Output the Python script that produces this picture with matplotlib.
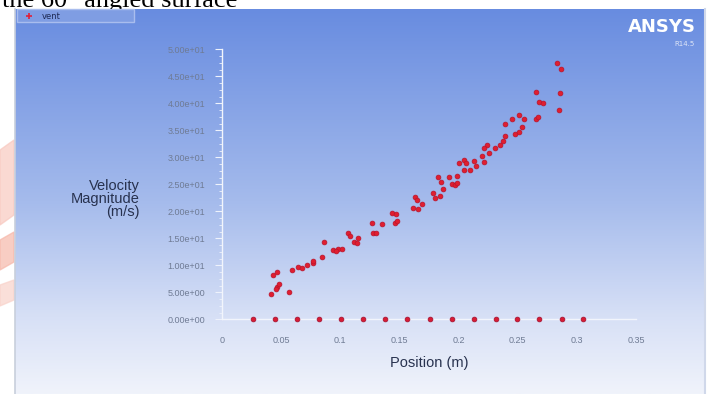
import matplotlib.pyplot as plt
import numpy as np
from matplotlib.ticker import MultipleLocator, AutoMinorLocator, FuncFormatter
from matplotlib.patches import Rectangle, Polygon

# Dados: pontos da superficie "vent"
pos_vent = [0.0412, 0.0429, 0.0462, 0.0467, 0.0479, 0.0459, 0.0569, 0.0589, 0.0645, 0.0674,
            0.0716, 0.0767, 0.0772, 0.0843, 0.0865, 0.0941, 0.0983, 0.1012, 0.0961, 0.1068,
            0.1082, 0.1118, 0.1152, 0.1139, 0.1270, 0.1279, 0.1302, 0.1350, 0.1434, 0.1471,
            0.1462, 0.1482, 0.1617, 0.1659, 0.1688, 0.1631, 0.1646, 0.1786, 0.1801, 0.1843,
            0.1866, 0.1828, 0.1849, 0.1921, 0.1942, 0.1970, 0.1989, 0.1989, 0.2006, 0.2048,
            0.2063, 0.2048, 0.2096, 0.2134, 0.2147, 0.2194, 0.2215, 0.2238, 0.2215, 0.2261,
            0.2308, 0.2350, 0.2378, 0.2392, 0.2392, 0.2477, 0.2515, 0.2533, 0.2449, 0.2513,
            0.2553, 0.2654, 0.2674, 0.2682, 0.2711, 0.2654, 0.2851, 0.2857, 0.2828, 0.2863]
vel_vent = [4.63, 8.15, 8.81, 5.93, 6.54, 5.56, 5.11, 9.13, 9.74, 9.44,
            10.06, 10.37, 10.85, 11.48, 14.26, 12.83, 13.02, 12.96, 12.65, 15.93,
            15.43, 14.37, 15.00, 14.19, 17.78, 16.04, 15.93, 17.59, 19.74, 19.50,
            17.78, 18.26, 20.56, 20.37, 21.35, 22.70, 22.09, 23.33, 22.41, 22.89,
            24.07, 26.41, 25.48, 26.41, 25.06, 24.93, 25.19, 26.54, 29.00, 29.50,
            28.89, 27.59, 27.65, 29.31, 28.33, 30.33, 29.07, 32.28, 31.72, 30.85,
            31.78, 32.37, 33.11, 33.94, 36.17, 34.26, 34.74, 35.67, 37.09, 37.83,
            37.04, 37.09, 37.41, 40.30, 40.11, 42.09, 38.76, 41.85, 47.41, 46.41]
# pontos com velocidade nula (parede)
pos_zero = [0.0262, 0.0448, 0.0634, 0.0820, 0.1006, 0.1192, 0.1378, 0.1564,
            0.1758, 0.1944, 0.2130, 0.2316, 0.2494, 0.2680, 0.2874, 0.3052]
vel_zero = [0.0] * len(pos_zero)

W, H = 712, 394
fig = plt.figure(figsize=(W / 100, H / 100), dpi=100)

# Fundo (coordenadas em pixels)
bg = fig.add_axes([0, 0, 1, 1])
bg.set_xlim(0, W)
bg.set_ylim(H, 0)
bg.axis('off')

# texto cortado no topo da pagina (como na imagem original)
bg.text(2, 7, 'the 60° angled surface', family='Liberation Serif', fontsize=19,
        va='baseline', ha='left', color='black', zorder=1)

# marca d'agua vermelha a esquerda
bg.add_patch(Polygon([[0, 150], [14, 140], [14, 215], [0, 225]], closed=True,
                     color='#f8c9c0', alpha=0.7, zorder=1))
bg.add_patch(Polygon([[0, 240], [14, 232], [14, 262], [0, 270]], closed=True,
                     color='#f6b8aa', alpha=0.7, zorder=1))
bg.add_patch(Polygon([[0, 285], [14, 280], [14, 300], [0, 306]], closed=True,
                     color='#f9d2ca', alpha=0.7, zorder=1))

# gradiente do painel
yy = np.linspace(0, 1, 300)
stops_y = [0.0, 0.5, 0.8, 1.0]
c_top = np.array([104, 140, 224]) / 255
c_mid = np.array([165, 187, 236]) / 255
c_low = np.array([215, 224, 246]) / 255
c_bot = np.array([240, 243, 251]) / 255
grad = np.zeros((300, 1, 3))
for k in range(3):
    grad[:, 0, k] = np.interp(yy, stops_y, [c_top[k], c_mid[k], c_low[k], c_bot[k]])
bg.imshow(grad, extent=[15, 705, H, 9], aspect='auto', zorder=2)
bg.plot([15, 15], [9, H], color='#c8cfdc', lw=1.2, zorder=3)
bg.plot([705, 705], [9, H], color='#d0d8ea', lw=1.5, zorder=3)

# legenda
bg.add_patch(Rectangle((17, 9), 117, 13, facecolor='#7f9de3', edgecolor='#a9bdee',
                       lw=1, zorder=3))
bg.plot([29], [16], marker='+', color='#e0203a', ms=4, mew=1.2, zorder=4)
bg.text(42, 16, 'vent', fontsize=6, color='#1e2a55', va='center', ha='left', zorder=4)

# logo ANSYS
bg.text(696, 27, 'ANSYS', fontsize=13, fontweight='bold', color='white',
        ha='right', va='center', zorder=4)
bg.text(695, 44, 'R14.5', fontsize=5, color='#dfe6f7', ha='right', va='center', zorder=4)

# rotulo do eixo y
bg.text(140, 199, 'Velocity\nMagnitude\n(m/s)', fontsize=10.5, family='Liberation Sans',
        color='#28324f', ha='right', va='center', multialignment='right',
        linespacing=0.95, zorder=4)

# Eixos dos dados
ax = fig.add_axes([222 / W, (H - 319.3) / H, (636 - 222) / W, 270 / H])
ax.patch.set_alpha(0)
ax.scatter(pos_vent, vel_vent, s=12, color='#e01e30', edgecolors='#b8142c',
           linewidths=0.5, zorder=3, clip_on=False)
ax.scatter(pos_zero, vel_zero, s=12, color='#d81c34', edgecolors='#a01030',
           linewidths=0.5, zorder=3, clip_on=False)
ax.set_xlim(0, 0.35)
ax.set_ylim(0, 50)

for s in ['top', 'right']:
    ax.spines[s].set_visible(False)
ax.spines['left'].set_color('#f2f5fc')
ax.spines['bottom'].set_color('#f2f5fc')
ax.spines['left'].set_linewidth(1.0)
ax.spines['bottom'].set_linewidth(1.0)

ax.yaxis.set_major_locator(MultipleLocator(5))
ax.yaxis.set_minor_locator(AutoMinorLocator(4))
ax.yaxis.set_major_formatter(FuncFormatter(lambda v, p: f'{v:.2e}'))
ax.xaxis.set_major_locator(MultipleLocator(0.05))
ax.xaxis.set_major_formatter(FuncFormatter(lambda v, p: f'{v:.2f}'.rstrip('0').rstrip('.') if v else '0'))

ax.tick_params(axis='y', which='major', length=5, width=0.8, color='#eef2fb',
               labelsize=6.5, labelcolor='#6f7b94', pad=7)
ax.tick_params(axis='y', which='minor', length=2.5, width=0.6, color='#eef2fb')
ax.tick_params(axis='x', which='major', length=0, labelsize=6.5, labelcolor='#6f7b94', pad=12)
for lb in ax.get_xticklabels() + ax.get_yticklabels():
    lb.set_family('Liberation Sans')

ax.set_xlabel('Position (m)', fontsize=10.5, family='Liberation Sans', color='#28324f',
              labelpad=8)

plt.savefig('out.png', dpi=100)
